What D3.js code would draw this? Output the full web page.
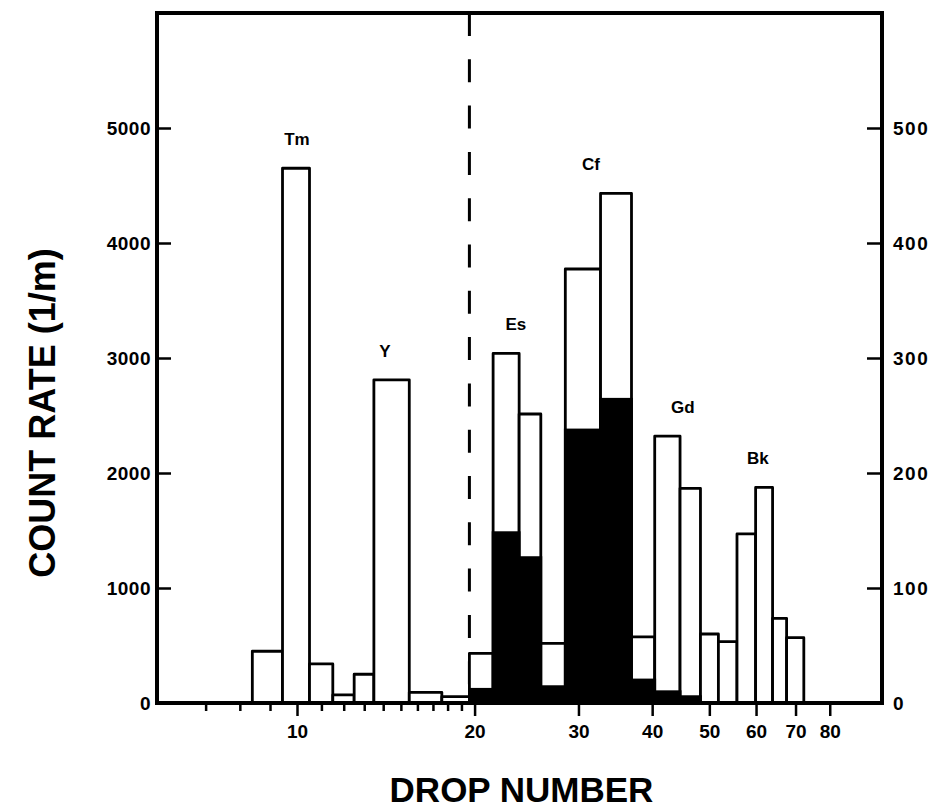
<!DOCTYPE html>
<html>
<head>
<meta charset="utf-8">
<script src="https://cdn.jsdelivr.net/npm/d3@7"></script>
<style>
  html, body { margin: 0; padding: 0; background: #fff; }
  svg { display: block; }
  text { font-family: "Liberation Sans", Arial, Helvetica, sans-serif; font-weight: bold; fill: #000; }
</style>
</head>
<body>
<svg id="chart" width="949" height="810"></svg>
<script>
// ---- data ----
// bin edges (drop number) of the histogram bars
const binEdges = [8.4, 9.45, 10.5, 11.5, 12.5, 13.5, 15.5, 17.6, 19.6, 21.5, 23.8, 25.9, 28.5,
                  32.7, 36.9, 40.4, 44.6, 48.3, 51.8, 55.7, 59.9, 64.0, 67.6, 72.3];
// total count rate (1/m), left scale
const totalRate = [450, 4650, 340, 70, 250, 2810, 93, 55, 432, 3040, 2513, 519, 3774, 4432,
                   575, 2320, 1867, 600, 533, 1470, 1875, 736, 568];
// filled (black) part, left scale
const filledRate = [0, 0, 0, 0, 0, 0, 0, 0, 119, 1481, 1264, 142, 2374, 2641,
                    200, 98, 55, 0, 0, 0, 0, 0, 0];
// element labels
const elementNames = ["Tm", "Y", "Es", "Cf", "Gd", "Bk"];
const elementDrop  = [10.0, 14.1, 23.5, 31.5, 45.1, 60.4];
const elementBar   = [1, 5, 9, 13, 15, 20];
// axes
const xMajorTicks = [10, 20, 30, 40, 50, 60, 70, 80];
const xMinorTicks = [7, 8, 9, 11, 12, 13, 14, 15, 16, 17, 18, 19];
const yLeftTicks  = [0, 1000, 2000, 3000, 4000, 5000];
const yRightTicks = [0, 100, 200, 300, 400, 500];
const xDomain = [5.79, 98.1];
const yDomain = [0, 6000];
const yRightDomain = [0, 600];
const dividerDrop = 19.6;

// ---- layout ----
const L = 157, R = 882, T = 13, B = 703;
const svg = d3.select("#chart");
const x = d3.scaleLog().domain(xDomain).range([L, R]);
const y = d3.scaleLinear().domain(yDomain).range([B, T]);
const y2 = d3.scaleLinear().domain(yRightDomain).range([B, T]);

// dashed divider
svg.append("line")
  .attr("x1", x(dividerDrop)).attr("x2", x(dividerDrop))
  .attr("y1", T).attr("y2", B)
  .attr("stroke", "#000").attr("stroke-width", 3)
  .attr("stroke-dasharray", "23,23.3");

// bars
const bars = d3.range(totalRate.length).map(i => ({
  x0: binEdges[i], x1: binEdges[i + 1], total: totalRate[i], filled: filledRate[i]
}));
const g = svg.append("g");
g.selectAll("rect.tot").data(bars).join("rect").attr("class", "tot")
  .attr("x", d => x(d.x0)).attr("width", d => x(d.x1) - x(d.x0))
  .attr("y", d => y(d.total)).attr("height", d => y(0) - y(d.total))
  .attr("fill", "#fff").attr("stroke", "#000").attr("stroke-width", 2.8)
  .attr("stroke-linejoin", "round");
g.selectAll("rect.fill").data(bars.filter(d => d.filled > 0)).join("rect").attr("class", "fill")
  .attr("x", d => x(d.x0)).attr("width", d => x(d.x1) - x(d.x0))
  .attr("y", d => y(d.filled)).attr("height", d => y(0) - y(d.filled))
  .attr("fill", "#000").attr("stroke", "#000").attr("stroke-width", 2.8);

// element labels
svg.selectAll("text.el").data(elementNames).join("text").attr("class", "el")
  .attr("x", (d, i) => x(elementDrop[i]))
  .attr("y", (d, i) => y(totalRate[elementBar[i]]) - 23)
  .attr("text-anchor", "middle").attr("font-size", 17)
  .text(d => d);

// axes
const axB = svg.append("g").attr("transform", `translate(0,${B})`)
  .call(d3.axisBottom(x).tickValues(xMajorTicks).tickSize(13).tickPadding(9).tickFormat(d3.format("d")));
const axBm = svg.append("g").attr("transform", `translate(0,${B})`)
  .call(d3.axisBottom(x).tickValues(xMinorTicks).tickSize(8).tickFormat(""));
const axL = svg.append("g").attr("transform", `translate(${L},0)`)
  .call(d3.axisRight(y).tickValues(yLeftTicks).tickSize(14).tickFormat(d3.format("d")));
const axR = svg.append("g").attr("transform", `translate(${R},0)`)
  .call(d3.axisLeft(y2).tickValues(yRightTicks).tickSize(15).tickFormat(d3.format("d")));

[axB, axBm, axL, axR].forEach(a => {
  a.select(".domain").remove();
  a.selectAll(".tick line").attr("stroke", "#000").attr("stroke-width", 2.5);
  a.selectAll("text").attr("font-family", null).attr("font-size", null);
});
axB.selectAll("text").style("font-size", "19px").attr("dy", "0.71em");
// left labels to the left of axis
axL.selectAll(".tick text").attr("x", -6).attr("text-anchor", "end")
  .attr("dy", "0.35em").style("font-size", "19px").style("letter-spacing", "0.5px");
axL.selectAll(".tick").filter(d => d === 0).select("line").remove();
// right labels to the right of axis
axR.selectAll(".tick text").attr("x", 11).attr("text-anchor", "start")
  .attr("dy", "0.35em").style("font-size", "19px").style("letter-spacing", "1.5px");
axR.selectAll(".tick").filter(d => d === 0).select("line").remove();

// frame
svg.append("rect").attr("x", L).attr("y", T).attr("width", R - L).attr("height", B - T)
  .attr("fill", "none").attr("stroke", "#000").attr("stroke-width", 4);

// axis titles
svg.append("text").attr("x", (L + R) / 2 + 2).attr("y", 802)
  .attr("text-anchor", "middle").attr("font-size", 35).text("DROP NUMBER");
svg.append("text").attr("transform", "translate(55,413) rotate(-90)")
  .attr("text-anchor", "middle").attr("font-size", 36).text("COUNT RATE (1/m)");
</script>
</body>
</html>
